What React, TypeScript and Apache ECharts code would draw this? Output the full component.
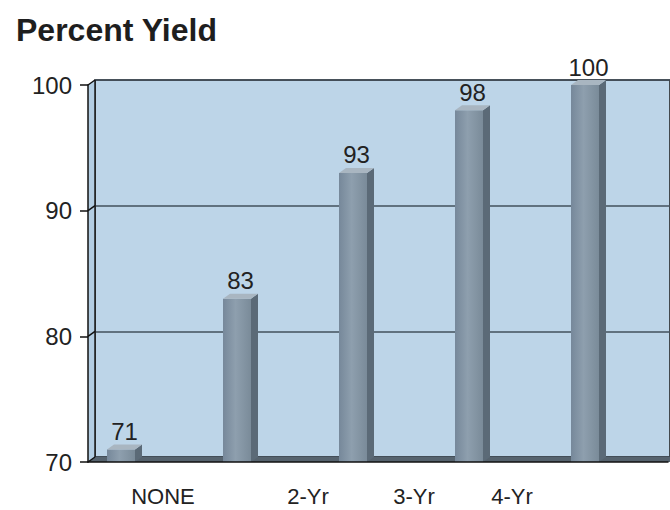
import React, { useEffect, useRef } from 'react';
import * as echarts from 'echarts';

// Percent yield by category
const categories = ['NONE', '', '2-Yr', '3-Yr', '4-Yr'];
const yieldValues = [71, 83, 93, 98, 100];
const yTicks = [70, 80, 90, 100];

const FONT = '"Liberation Sans", Arial, Helvetica, sans-serif';

// 3D look: the back wall sits up and to the right of the front plane
const DX = 7;
const DY = -5;
const SLOT = 116;
const BAR_W = 28;

// horizontal nudges for the category captions (px)
const labelShifts = [42, 0, -45, -55, -73];

export default function App() {
  const ref = useRef<HTMLDivElement>(null);

  useEffect(() => {
    if (!ref.current) return;
    const chart = echarts.init(ref.current, null, { renderer: 'svg' });

    const labelItems = categories.map((c, i) => {
      const s = labelShifts[i];
      return {
        value: c,
        textStyle: { padding: s >= 0 ? [0, 0, 0, 2 * s] : [0, -2 * s, 0, 0] },
      };
    });

    const yMin = yTicks[0];
    const yMax = yTicks[yTicks.length - 1];

    const option = {
      animation: false,
      backgroundColor: '#ffffff',
      title: {
        text: 'Percent Yield',
        left: 11,
        top: 9,
        textStyle: { fontSize: 32, fontWeight: 'bold', color: '#1e1e1e', fontFamily: FONT },
      },
      grid: [
        { left: 88, top: 85, bottom: 48, width: SLOT * 5 },
        {
          left: 88 + DX,
          top: 85 + DY,
          bottom: 48 - DY,
          right: -40,
          show: true,
          backgroundColor: '#bdd5e8',
          borderColor: '#1b1b1b',
          borderWidth: 1.5,
        },
        { left: 88 - 25, top: 85, bottom: 48, width: SLOT * 5 },
      ],
      xAxis: [
        {
          gridIndex: 0,
          type: 'category',
          data: categories,
          z: 10,
          axisLine: { lineStyle: { color: '#111', width: 1.5 } },
          axisTick: { length: 7, lineStyle: { color: '#111', width: 1.5 } },
          axisLabel: { show: false },
        },
        { gridIndex: 1, type: 'category', data: categories, show: false },
        {
          gridIndex: 2,
          type: 'category',
          data: labelItems,
          axisLine: { show: false },
          axisTick: { show: false },
          axisLabel: {
            interval: 0,
            margin: 23,
            fontSize: 22,
            color: '#222',
            fontFamily: FONT,
          },
        },
      ],
      yAxis: [
        {
          gridIndex: 0,
          type: 'value',
          min: yMin,
          max: yMax,
          interval: 10,
          z: 10,
          axisLine: { show: true, lineStyle: { color: '#111', width: 1.5 } },
          axisTick: { show: true, length: 8, lineStyle: { color: '#111', width: 1.5 } },
          axisLabel: { margin: 16, fontSize: 24, color: '#222', fontFamily: FONT },
          splitLine: { show: false },
        },
        {
          gridIndex: 1,
          type: 'value',
          min: yMin,
          max: yMax,
          interval: 10,
          axisLine: { show: false },
          axisTick: { show: false },
          axisLabel: { show: false },
          splitLine: { show: true, lineStyle: { color: '#43515d', width: 1.5 } },
        },
        { gridIndex: 2, type: 'value', min: yMin, max: yMax, show: false },
      ],
      series: [
        {
          // side wall, floor and the slanted tick connectors
          type: 'custom',
          xAxisIndex: 0,
          yAxisIndex: 0,
          silent: true,
          data: yTicks.map((v) => [0, v]),
          renderItem: (params: any, api: any) => {
            const cs = params.coordSys;
            const x0 = cs.x;
            const y = api.coord([0, api.value(1)])[1];
            const children: any[] = [];
            if (params.dataIndex === 0) {
              const top = cs.y;
              const bottom = cs.y + cs.height;
              const right = api.getWidth() + 5;
              children.push({
                type: 'polygon',
                shape: { points: [[x0, top], [x0 + DX, top + DY], [x0 + DX, bottom + DY], [x0, bottom]] },
                style: { fill: '#b3cde2' },
              });
              children.push({
                type: 'polygon',
                shape: { points: [[x0, bottom], [x0 + DX, bottom + DY], [right, bottom + DY], [right, bottom]] },
                style: { fill: '#56636e' },
              });
              children.push({
                type: 'line',
                shape: { x1: x0 + DX, y1: top + DY, x2: x0 + DX, y2: bottom + DY },
                style: { stroke: '#1b1b1b', lineWidth: 1.5 },
              });
            }
            children.push({
              type: 'line',
              shape: { x1: x0, y1: y, x2: x0 + DX, y2: y + DY },
              style: { stroke: '#111', lineWidth: 1.5 },
            });
            return { type: 'group', children };
          },
        },
        {
          // 3D bars with value captions
          type: 'custom',
          xAxisIndex: 2,
          yAxisIndex: 2,
          data: yieldValues.map((v, i) => [i, v]),
          renderItem: (params: any, api: any) => {
            const idx = api.value(0);
            const v = api.value(1);
            const [cx, top] = api.coord([idx, v]);
            const base = api.coord([idx, yMin])[1];
            const x0 = cx - BAR_W / 2;
            const x1 = x0 + BAR_W;
            return {
              type: 'group',
              children: [
                {
                  type: 'rect',
                  shape: { x: x0, y: top, width: BAR_W, height: base - top },
                  style: {
                    fill: new echarts.graphic.LinearGradient(0, 0, 1, 0, [
                      { offset: 0, color: '#76889a' },
                      { offset: 0.45, color: '#8e9fae' },
                      { offset: 1, color: '#7a8b99' },
                    ]),
                  },
                },
                {
                  type: 'polygon',
                  shape: { points: [[x1, top], [x1 + DX, top + DY], [x1 + DX, base + DY], [x1, base]] },
                  style: { fill: '#5b6a77' },
                },
                {
                  type: 'polygon',
                  shape: { points: [[x0, top], [x0 + DX, top + DY], [x1 + DX, top + DY], [x1, top]] },
                  style: { fill: '#a9b6c1' },
                },
                {
                  type: 'text',
                  style: {
                    text: String(v),
                    x: cx + DX / 2,
                    y: top + DY - 1,
                    align: 'center',
                    verticalAlign: 'bottom',
                    fontSize: 24,
                    fontFamily: FONT,
                    fill: '#222',
                  },
                },
              ],
            };
          },
        },
      ],
    };

    chart.setOption(option as any);
    return () => chart.dispose();
  }, []);

  return (
    <div
      ref={ref}
      style={{ position: 'fixed', left: 0, top: 0, width: 670, height: 510 }}
    />
  );
}
